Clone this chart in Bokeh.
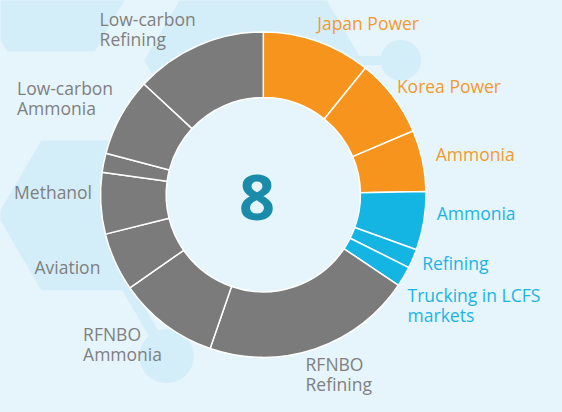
import math
from bokeh.plotting import figure
from bokeh.models import ColumnDataSource
from bokeh.core.properties import value
from bokeh.embed import file_html
from bokeh.resources import INLINE

# ---------------- data ----------------
categories = ["Japan Power", "Korea Power", "Ammonia", "Ammonia", "Refining",
              "Trucking in LCFS\nmarkets", "RFNBO\nRefining", "RFNBO\nAmmonia",
              "Aviation", "Methanol", "", "Low-carbon\nAmmonia", "Low-carbon\nRefining"]
shares = [10.8, 7.8, 6.1, 5.8, 1.9, 2.0, 20.9, 10.0, 5.8, 6.1, 1.9, 7.8, 13.1]
groups = ["orange", "orange", "orange", "blue", "blue", "blue",
          "gray", "gray", "gray", "gray", "gray", "gray", "gray"]
center_label = "8"

# ---------------- style ----------------
W, H = 562, 412           # reference coordinate space
BG = "#e6f5fc"
HEX = "#d3eef8"
fill = {"orange": "#f7941e", "blue": "#14b5e3", "gray": "#7a7b7a"}
txt = {"orange": "#f39a2c", "blue": "#1ab4e4", "gray": "#7f7f7f"}
CX, CY = 270.5, 202.0
R_OUT, R_IN = 167.5, 100.0

def fy(y):
    return H - y

p = figure(width=546, height=396, x_range=(0, W), y_range=(0, H),
           output_backend="svg", toolbar_location=None, min_border=0,
           x_axis_type=None, y_axis_type=None)
p.grid.visible = False
p.outline_line_color = None
p.background_fill_color = BG
p.border_fill_color = BG

# ---------------- background decoration ----------------
def hexagon(cx, cy, r):
    xs, ys = [], []
    for k in range(6):
        a = math.radians(60 * k)
        xs.append(cx + r * math.cos(a))
        ys.append(fy(cy + r * math.sin(a)))
    return xs, ys

hexes = [(52, -25, 90), (260, 62.5, 112), (87, 223.5, 90)]
hx, hy = [], []
for c in hexes:
    a, b = hexagon(*c)
    hx.append(a)
    hy.append(b)
p.patches(hx, hy, fill_color=HEX, line_color=None)
p.line([369, 395], [fy(62.5), fy(62.5)], line_color=HEX, line_width=9)
p.line([130, 171], [fy(298), fy(370)], line_color=HEX, line_width=11)
p.circle([412, 171], [fy(62), fy(370)], radius=[21, 28], fill_color=HEX, line_color=None)

# hole / ring backdrop
p.circle([CX], [fy(CY)], radius=R_OUT, fill_color=BG, line_color=None)

# ---------------- donut ----------------
total = sum(shares)
starts, ends, cols = [], [], []
cum = 0.0
for s, g in zip(shares, groups):
    a0 = math.pi / 2 - 2 * math.pi * cum / total
    cum += s
    a1 = math.pi / 2 - 2 * math.pi * cum / total
    starts.append(a0)
    ends.append(a1)
    cols.append(fill[g])
src = ColumnDataSource(dict(x=[CX] * len(shares), y=[fy(CY)] * len(shares),
                            start=starts, end=ends, color=cols))
p.annular_wedge(x="x", y="y", inner_radius=R_IN, outer_radius=R_OUT,
                start_angle="start", end_angle="end", direction="clock",
                fill_color="color", line_color="white", line_width=1.5, source=src)

# ---------------- labels ----------------
# left x and first-line centre y (reference pixels) for each category
label_pos = [(326, 23), (408, 89), (448, 160), (449, 221), (434, 273),
             (419, 306), (314, 378), (85, 347), (35, 277), (14, 199),
             None, (17, 91), (102, 19)]
LINE = 21
lx, ly, lt, lc = [], [], [], []
for cat, g, pos in zip(categories, groups, label_pos):
    if pos is None or not cat:
        continue
    for i, line in enumerate(cat.split("\n")):
        lx.append(pos[0])
        ly.append(fy(pos[1] + i * LINE))
        lt.append(line)
        lc.append(txt[g])
p.text(x=lx, y=ly, text=lt, text_color=lc, text_font=value("Open Sans"),
       text_font_size="17.5px", text_align="left", text_baseline="middle")

p.text(x=[264], y=[fy(205)], text=[center_label], text_color="#1a8ca9",
       text_font=value("Open Sans"), text_font_style="bold",
       text_font_size="63px", text_align="center", text_baseline="middle")

html = file_html(p, INLINE).replace(
    "<head>", "<head><style>html, body { background: #e6f5fc; }</style>", 1)
open("out.html", "w").write(html)
